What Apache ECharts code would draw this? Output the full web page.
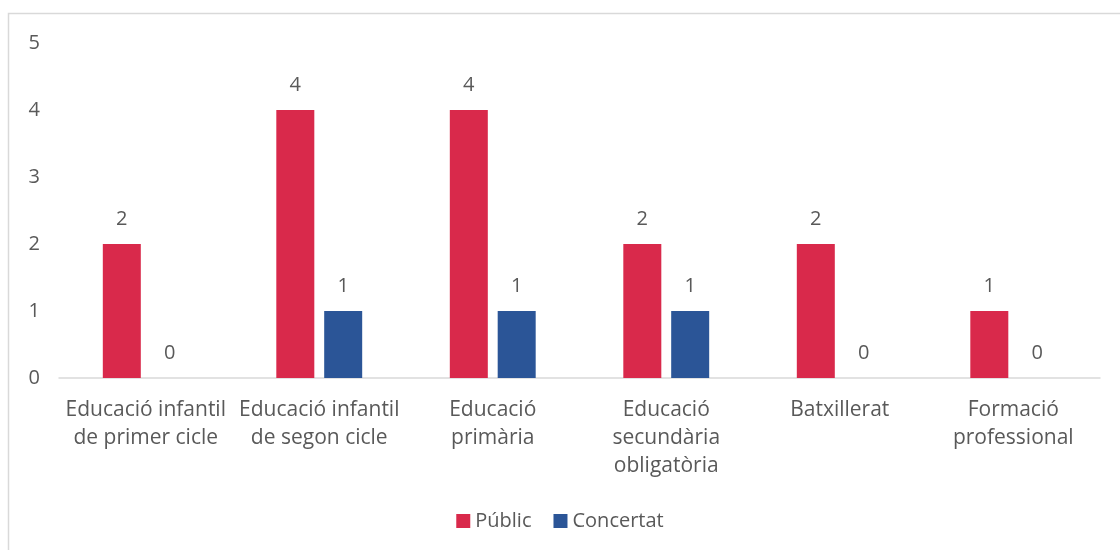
<!DOCTYPE html>
<html>
<head>
<meta charset="utf-8">
<script src="https://cdn.jsdelivr.net/npm/echarts@6/dist/echarts.min.js"></script>
<style>
  html, body { margin: 0; padding: 0; background: #fff; }
  #chart { width: 1120px; height: 550px; }
</style>
</head>
<body>
<div id="chart"></div>
<script>
// categories and series values
const categories = [
  'Educació infantil\nde primer cicle',
  'Educació infantil\nde segon cicle',
  'Educació\nprimària',
  'Educació\nsecundària\nobligatòria',
  'Batxillerat',
  'Formació\nprofessional'
]
const publicValues = [2, 4, 4, 2, 2, 1]
const concertatValues = [0, 1, 1, 1, 0, 0]

const textColor = '#595959'
const font = 'Open Sans'

const chart = echarts.init(document.getElementById('chart'))
chart.setOption({
  backgroundColor: '#fff',
  textStyle: { fontFamily: font },
  graphic: [
    {
      type: 'rect',
      left: 6,
      top: 11,
      shape: { width: 1200, height: 600 },
      style: { fill: 'none', stroke: '#d9d9d9', lineWidth: 1.5 },
      silent: true
    }
  ],
  grid: {
    left: 59,
    right: 20,
    top: 43,
    bottom: 172
  },
  legend: {
    bottom: 14,
    left: 'center',
    itemWidth: 14,
    itemHeight: 14,
    itemGap: 22,
    icon: 'rect',
    textStyle: { fontSize: 20, color: textColor, fontFamily: font },
    data: ['Públic', 'Concertat']
  },
  xAxis: {
    type: 'category',
    data: categories,
    axisLine: { lineStyle: { color: '#d9d9d9', width: 1.5 } },
    axisTick: { show: false },
    axisLabel: {
      interval: 0,
      color: textColor,
      fontSize: 21,
      lineHeight: 28,
      margin: 18,
      fontFamily: font
    }
  },
  yAxis: {
    type: 'value',
    min: 0,
    max: 5,
    interval: 1,
    axisLine: { show: false },
    axisTick: { show: false },
    splitLine: { show: false },
    axisLabel: { color: textColor, fontSize: 20, margin: 19, fontFamily: font }
  },
  series: [
    {
      name: 'Públic',
      type: 'bar',
      data: publicValues,
      barWidth: 38,
      barGap: '26%',
      itemStyle: { color: '#d9294b' },
      label: { show: true, position: 'top', distance: 15, color: textColor, fontSize: 20, fontFamily: font }
    },
    {
      name: 'Concertat',
      type: 'bar',
      data: concertatValues,
      barWidth: 38,
      itemStyle: { color: '#2b5597' },
      label: { show: true, position: 'top', distance: 15, color: textColor, fontSize: 20, fontFamily: font }
    }
  ]
})
</script>
</body>
</html>
